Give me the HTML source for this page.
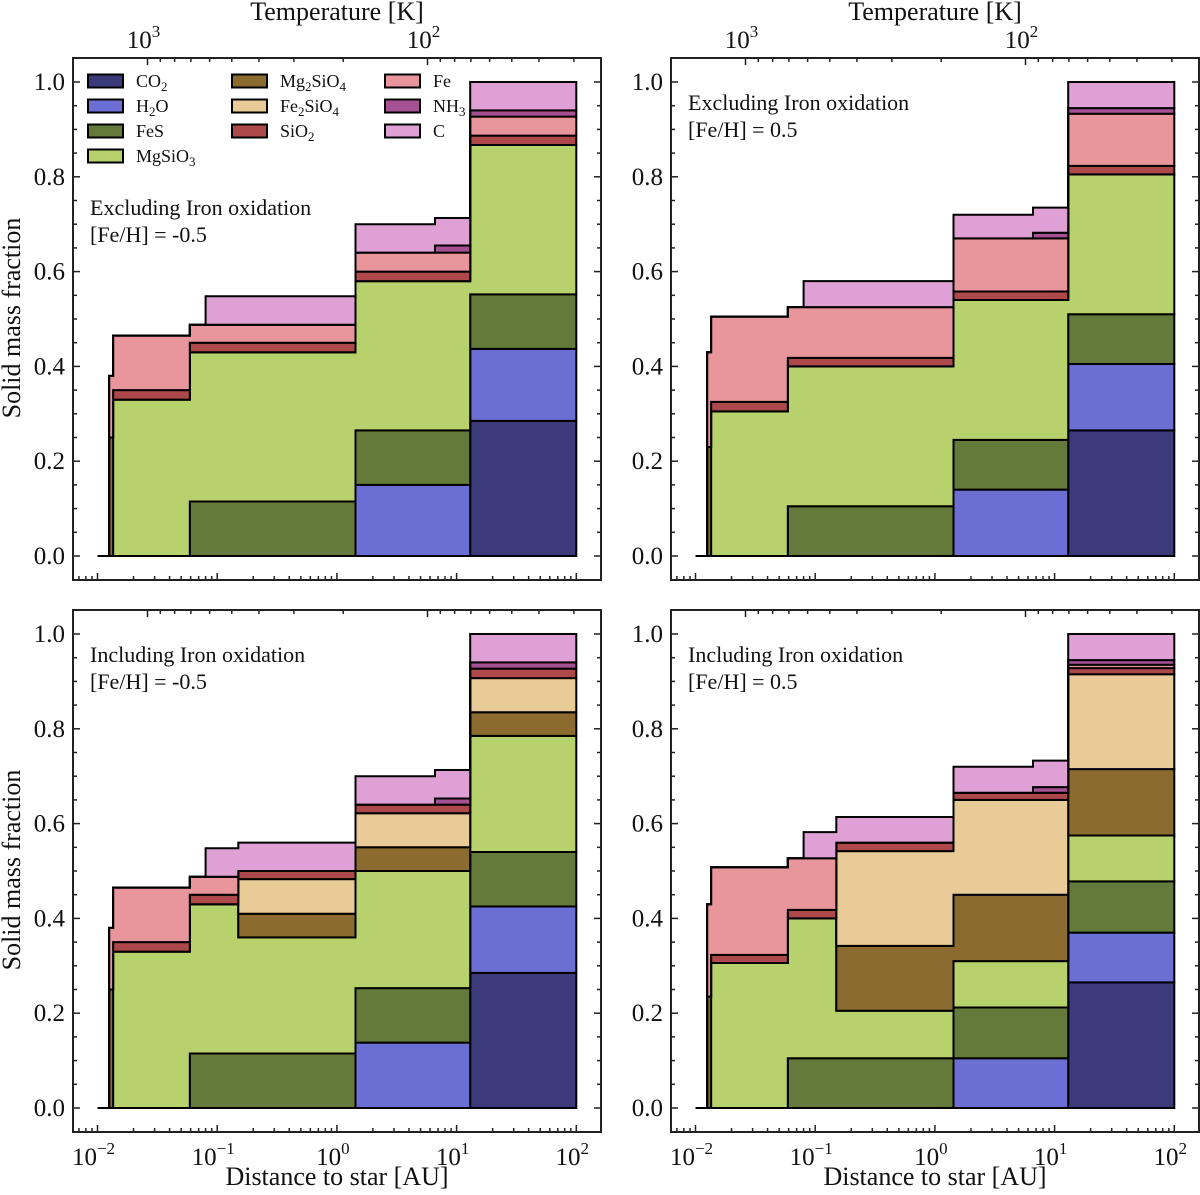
<!DOCTYPE html>
<html><head><meta charset="utf-8">
<style>
html,body{margin:0;padding:0;background:#fff;}
svg{display:block;font-family:"Liberation Serif","DejaVu Serif",serif;}
</style></head>
<body>
<svg id="fig" width="1200" height="1195" viewBox="0 0 1200 1195" xmlns="http://www.w3.org/2000/svg"></svg>
<script>
// ---- data ----
const binEdgesAU = [0.01, 0.0125, 0.0135, 0.059, 0.08, 0.15, 1.43, 6.6, 13, 100];
const species = ["CO2","H2O","FeS","MgSiO3","Mg2SiO4","Fe2SiO4","SiO2","Fe","NH3","C"];
const speciesLabels = ["CO<tspan font-size='13' dy='4'>2</tspan>","H<tspan font-size='13' dy='4'>2</tspan><tspan dy='-4'>O</tspan>","FeS","MgSiO<tspan font-size='13' dy='4'>3</tspan>","Mg<tspan font-size='13' dy='4'>2</tspan><tspan dy='-4'>SiO</tspan><tspan font-size='13' dy='4'>4</tspan>","Fe<tspan font-size='13' dy='4'>2</tspan><tspan dy='-4'>SiO</tspan><tspan font-size='13' dy='4'>4</tspan>","SiO<tspan font-size='13' dy='4'>2</tspan>","Fe","NH<tspan font-size='13' dy='4'>3</tspan>","C"];
const speciesColors = ["#3b3b7c","#6b6ed3","#637a3a","#b7d16c","#8c6b30","#e8cb96","#ad494a","#e8969c","#a55194","#dfa0d6"];
const yTicks = [0, 0.2, 0.4, 0.6, 0.8, 1.0];
const yTickLabels = ["0.0","0.2","0.4","0.6","0.8","1.0"];
const xTickExps = [-2,-1,0,1,2];
const tTickExps = [3,2];

// Panel: Excluding, [Fe/H] = -0.5
const exclLow_CO2     = [0,0,0,0,0,0,0,0,0.285];
const exclLow_H2O     = [0,0,0,0,0,0,0.15,0.15,0.152];
const exclLow_FeS     = [0,0,0,0.115,0.115,0.115,0.115,0.115,0.115];
const exclLow_MgSiO3  = [0,0,0.33,0.315,0.315,0.315,0.315,0.315,0.315];
const exclLow_Mg2SiO4 = [0,0.25,0,0,0,0,0,0,0];
const exclLow_Fe2SiO4 = [0,0,0,0,0,0,0,0,0];
const exclLow_SiO2    = [0,0,0.02,0.02,0.02,0.02,0.02,0.02,0.02];
const exclLow_Fe      = [0,0.13,0.115,0.038,0.038,0.038,0.04,0.04,0.04];
const exclLow_NH3     = [0,0,0,0,0,0,0,0.015,0.013];
const exclLow_C       = [0,0,0,0,0.06,0.06,0.06,0.058,0.06];

// Panel: Excluding, [Fe/H] = 0.5
const exclHigh_CO2     = [0,0,0,0,0,0,0,0,0.265];
const exclHigh_H2O     = [0,0,0,0,0,0,0.14,0.14,0.14];
const exclHigh_FeS     = [0,0,0,0.105,0.105,0.105,0.105,0.105,0.105];
const exclHigh_MgSiO3  = [0,0,0.305,0.295,0.295,0.295,0.295,0.295,0.295];
const exclHigh_Mg2SiO4 = [0,0.23,0,0,0,0,0,0,0];
const exclHigh_Fe2SiO4 = [0,0,0,0,0,0,0,0,0];
const exclHigh_SiO2    = [0,0,0.02,0.018,0.018,0.018,0.018,0.018,0.018];
const exclHigh_Fe      = [0,0.2,0.18,0.107,0.107,0.107,0.112,0.112,0.11];
const exclHigh_NH3     = [0,0,0,0,0,0,0,0.012,0.012];
const exclHigh_C       = [0,0,0,0,0.055,0.055,0.05,0.053,0.055];

// Panel: Including, [Fe/H] = -0.5
const inclLow_CO2     = [0,0,0,0,0,0,0,0,0.285];
const inclLow_H2O     = [0,0,0,0,0,0,0.138,0.138,0.14];
const inclLow_FeS     = [0,0,0,0.115,0.115,0.115,0.115,0.115,0.115];
const inclLow_MgSiO3  = [0,0,0.33,0.315,0.315,0.245,0.247,0.247,0.245];
const inclLow_Mg2SiO4 = [0,0.25,0,0,0,0.05,0.05,0.05,0.05];
const inclLow_Fe2SiO4 = [0,0,0,0,0,0.073,0.072,0.072,0.072];
const inclLow_SiO2    = [0,0,0.02,0.02,0.02,0.017,0.018,0.018,0.02];
const inclLow_Fe      = [0,0.13,0.115,0.038,0.038,0,0,0,0];
const inclLow_NH3     = [0,0,0,0,0,0,0,0.013,0.013];
const inclLow_C       = [0,0,0,0,0.06,0.06,0.06,0.06,0.06];

// Panel: Including, [Fe/H] = 0.5
const inclHigh_CO2     = [0,0,0,0,0,0,0,0,0.265];
const inclHigh_H2O     = [0,0,0,0,0,0,0.105,0.105,0.105];
const inclHigh_FeS     = [0,0,0,0.105,0.105,0.105,0.107,0.107,0.108];
const inclHigh_MgSiO3  = [0,0,0.306,0.295,0.295,0.1,0.098,0.098,0.097];
const inclHigh_Mg2SiO4 = [0,0.235,0,0,0,0.137,0.14,0.14,0.14];
const inclHigh_Fe2SiO4 = [0,0,0,0,0,0.2,0.2,0.2,0.2];
const inclHigh_SiO2    = [0,0,0.017,0.018,0.018,0.018,0.015,0.015,0.013];
const inclHigh_Fe      = [0,0.195,0.185,0.109,0.109,0,0,0,0.007];
const inclHigh_NH3     = [0,0,0,0,0,0,0,0.012,0.01];
const inclHigh_C       = [0,0,0,0,0.055,0.054,0.055,0.056,0.055];

const panels = [
  {name:"excl-low", ox:0, oy:0, t1:"Excluding Iron oxidation", t2:"[Fe/H] = -0.5", tx:90, ty:215, legend:true, ylab:true, xlab:false, toplab:true,
   data:[exclLow_CO2,exclLow_H2O,exclLow_FeS,exclLow_MgSiO3,exclLow_Mg2SiO4,exclLow_Fe2SiO4,exclLow_SiO2,exclLow_Fe,exclLow_NH3,exclLow_C]},
  {name:"excl-high", ox:598, oy:0, t1:"Excluding Iron oxidation", t2:"[Fe/H] = 0.5", tx:90, ty:110, legend:false, ylab:false, xlab:false, toplab:true,
   data:[exclHigh_CO2,exclHigh_H2O,exclHigh_FeS,exclHigh_MgSiO3,exclHigh_Mg2SiO4,exclHigh_Fe2SiO4,exclHigh_SiO2,exclHigh_Fe,exclHigh_NH3,exclHigh_C]},
  {name:"incl-low", ox:0, oy:552, t1:"Including Iron oxidation", t2:"[Fe/H] = -0.5", tx:90, ty:110, legend:false, ylab:true, xlab:true, toplab:false,
   data:[inclLow_CO2,inclLow_H2O,inclLow_FeS,inclLow_MgSiO3,inclLow_Mg2SiO4,inclLow_Fe2SiO4,inclLow_SiO2,inclLow_Fe,inclLow_NH3,inclLow_C]},
  {name:"incl-high", ox:598, oy:552, t1:"Including Iron oxidation", t2:"[Fe/H] = 0.5", tx:90, ty:110, legend:false, ylab:false, xlab:true, toplab:false,
   data:[inclHigh_CO2,inclHigh_H2O,inclHigh_FeS,inclHigh_MgSiO3,inclHigh_Mg2SiO4,inclHigh_Fe2SiO4,inclHigh_SiO2,inclHigh_Fe,inclHigh_NH3,inclHigh_C]}
];

// ---- drawing ----
const NS = "http://www.w3.org/2000/svg";
const svg = document.getElementById("fig");
function mk(tag, attrs, parent){
  const e = document.createElementNS(NS, tag);
  for (const k in attrs) e.setAttribute(k, attrs[k]);
  (parent||svg).appendChild(e);
  return e;
}
const FL=73, FR=601, FT=58, FB=580;
function xScale(d, ox){ return ox + 97.5 + (Math.log10(d)+2)*119.7; }
function yScale(v, oy){ return oy + 556 - v*474; }
function tScale(T, ox){ return ox + 147.5 + (3-Math.log10(T))*280; }

panels.forEach(p=>{
  const g = mk("g", {});
  
  
  const ox=p.ox, oy=p.oy;
  const nb = binEdgesAU.length-1;
  const cum = new Array(nb).fill(0);
  p.data.forEach((vals, si)=>{
    const lower = cum.slice();
    const upper = cum.map((c,i)=>c+vals[i]);
    let d = "";
    for (let i=0;i<nb;i++){
      const x0=xScale(binEdgesAU[i],ox), x1=xScale(binEdgesAU[i+1],ox), y=yScale(upper[i],oy);
      d += (i===0?"M":"L")+x0.toFixed(1)+","+y.toFixed(1)+" L"+x1.toFixed(1)+","+y.toFixed(1)+" ";
    }
    for (let i=nb-1;i>=0;i--){
      const x0=xScale(binEdgesAU[i],ox), x1=xScale(binEdgesAU[i+1],ox), y=yScale(lower[i],oy);
      d += "L"+x1.toFixed(1)+","+y.toFixed(1)+" L"+x0.toFixed(1)+","+y.toFixed(1)+" ";
    }
    d += "Z";
    const path = mk("path", {d:d, fill:speciesColors[si], stroke:"#000", "stroke-width":"2", "stroke-linejoin":"miter"}, g);
    
    
    for (let i=0;i<nb;i++) cum[i]=upper[i];
  });
  const fr = mk("rect", {x:FL+ox, y:FT+oy, width:FR-FL, height:FB-FT, fill:"none", stroke:"#222", "stroke-width":"2"}, g);
  
  
  for (let v=0; v<=1.0001; v+=0.05){
    const y=yScale(v,oy), major = Math.abs(v*5-Math.round(v*5))<1e-6;
    const L = major?7:4;
    mk("line",{x1:FL+ox,x2:FL+ox+L,y1:y,y2:y,stroke:"#222","stroke-width":"1.5"},g);
    mk("line",{x1:FR+ox,x2:FR+ox-L,y1:y,y2:y,stroke:"#222","stroke-width":"1.5"},g);
  }
  yTicks.forEach((v,i)=>{
    const t = mk("text",{x:FL+ox-8,y:yScale(v,oy)+8,"text-anchor":"end","font-size":"25",fill:"#111"},g);
    t.textContent = yTickLabels[i];
    
    
  });
  for (let e=-3;e<=2;e++){
    for (let m=1;m<=9;m++){
      const d=m*Math.pow(10,e), x=xScale(d,ox);
      if (x<FL+ox+1||x>FR+ox-1) continue;
      const L = m===1?7:4;
      mk("line",{x1:x,x2:x,y1:FB+oy,y2:FB+oy-L,stroke:"#222","stroke-width":"1.5"},g);
    }
  }
  if (p.xlab){
    xTickExps.forEach(e=>{
      const t = mk("text",{x:xScale(Math.pow(10,e),ox)-4,y:FB+oy+33,"text-anchor":"middle","font-size":"25",fill:"#111"},g);
      t.innerHTML = "10<tspan font-size='17' dy='-11'>"+(e<0?"\u2212"+(-e):e)+"</tspan>";
      
      
    });
    const xl = mk("text",{x:ox+337,y:1185,"text-anchor":"middle","font-size":"26",fill:"#111"},g);
    xl.textContent = "Distance to star [AU]";
    
    
  }
  for (let e=1;e<=3;e++){
    for (let m=1;m<=9;m++){
      const T=m*Math.pow(10,e), x=tScale(T,ox);
      if (x<FL+ox+1||x>FR+ox-1) continue;
      const L = m===1?7:4;
      mk("line",{x1:x,x2:x,y1:FT+oy,y2:FT+oy+L,stroke:"#222","stroke-width":"1.5"},g);
    }
  }
  if (p.toplab){
    tTickExps.forEach(e=>{
      const t = mk("text",{x:tScale(Math.pow(10,e),ox)-4,y:FT+oy-10,"text-anchor":"middle","font-size":"25",fill:"#111"},g);
      t.innerHTML = "10<tspan font-size='17' dy='-11'>"+e+"</tspan>";
      
      
    });
    const tl = mk("text",{x:ox+337,y:20,"text-anchor":"middle","font-size":"26",fill:"#111"},g);
    tl.textContent = "Temperature [K]";
    
    
  }
  if (p.ylab){
    const yl = mk("text",{x:0,y:0,"text-anchor":"middle","font-size":"26",fill:"#111",transform:"translate(20,"+(oy+318)+") rotate(-90)"},g);
    yl.textContent = "Solid mass fraction";
    
    
  }
  const a1 = mk("text",{x:ox+p.tx,y:oy+p.ty,"font-size":"22",fill:"#111"},g);
  a1.textContent = p.t1;
  
  
  const a2 = mk("text",{x:ox+p.tx,y:oy+p.ty+27,"font-size":"22",fill:"#111"},g);
  a2.textContent = p.t2;
  
  
  if (p.legend){
    const cols = [[0,1,2,3],[4,5,6],[7,8,9]];
    const colX = [88, 232, 385];
    cols.forEach((c,ci)=>c.forEach((si,ri)=>{
      const y = 81 + ri*25;
      const le = mk("g",{},g);
      
      
      mk("rect",{x:colX[ci],y:y-6.5,width:35,height:13,fill:speciesColors[si],stroke:"#000","stroke-width":"2"},le);
      const t = mk("text",{x:colX[ci]+48,y:y+6,"font-size":"18",fill:"#111"},le);
      t.innerHTML = speciesLabels[si];
    }));
  }
});
</script>
</body></html>
